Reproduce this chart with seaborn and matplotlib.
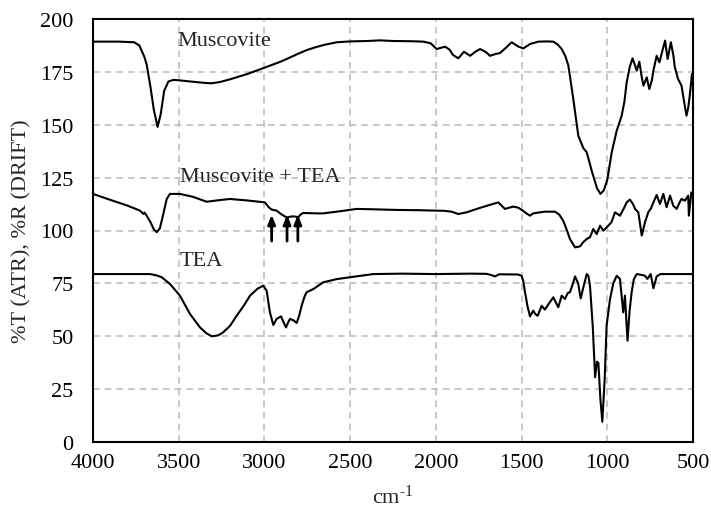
import numpy as np
import pandas as pd
import matplotlib
matplotlib.use("Agg")
import matplotlib.pyplot as plt
import seaborn as sns

# ---------------- data ----------------
musc_wn = [4000, 3850, 3760, 3730, 3700, 3687, 3665, 3645, 3623, 3605, 3585, 3560, 3530, 3498,
           3450, 3400, 3350, 3308, 3260, 3200, 3100, 2992, 2900, 2800, 2753, 2700, 2650, 2578,
           2500, 2400, 2326, 2250, 2150, 2073, 2030, 1995, 1965, 1946, 1920, 1900, 1869, 1836,
           1800, 1770, 1742, 1710, 1684, 1650, 1626, 1590, 1558, 1520, 1490, 1450, 1402, 1350,
           1315, 1290, 1266, 1245, 1227, 1198, 1169, 1140, 1120, 1090, 1060, 1040, 1020, 1000,
           974, 945, 916, 900, 887, 870, 853, 840, 828, 813, 800, 789, 770, 755, 740, 731, 712,
           696, 680, 663, 648, 629, 615, 606, 587, 567, 550, 538, 528, 519, 506, 500]
musc_val = [189.3, 189.3, 189.0, 187.5, 182.0, 178.5, 168.0, 157.0, 149.0, 155.0, 166.0, 170.5,
            171.2, 171.0, 170.6, 170.2, 169.8, 169.6, 170.2, 171.5, 174.0, 177.2, 180.0, 183.7,
            185.3, 186.7, 187.8, 189.0, 189.4, 189.6, 189.9, 189.6, 189.5, 189.3, 188.5, 185.8,
            186.5, 186.9, 185.5, 183.0, 181.4, 184.5, 182.6, 184.5, 185.8, 184.5, 182.6, 183.5,
            183.9, 186.5, 189.0, 187.0, 186.1, 188.2, 189.3, 189.4, 189.3, 188.0, 185.8, 182.5,
            178.0, 162.0, 144.8, 139.0, 137.0, 128.0, 120.0, 117.3, 119.0, 124.0, 137.0, 147.2,
            154.3, 161.0, 170.0, 177.0, 181.4, 178.5, 175.6, 179.8, 173.0, 168.5, 172.4, 166.9,
            171.0, 175.6, 182.6, 179.5, 184.5, 189.8, 181.1, 189.0, 183.0, 177.2, 171.6, 168.5,
            160.0, 154.3, 158.0, 163.7, 174.0, 174.0]

mix_wn = [4000, 3900, 3800, 3726, 3706, 3700, 3687, 3665, 3645, 3628, 3610, 3595, 3570, 3551,
          3493, 3420, 3337, 3270, 3201, 3100, 2997, 2975, 2958, 2929, 2900, 2871, 2850, 2832,
          2815, 2803, 2790, 2774, 2700, 2657, 2550, 2462, 2350, 2267, 2210, 2100, 2005, 1950,
          1908, 1869, 1820, 1750, 1690, 1636, 1597, 1549, 1520, 1500, 1470, 1451, 1432, 1400,
          1364, 1305, 1280, 1257, 1235, 1218, 1188, 1159, 1140, 1120, 1101, 1082, 1062, 1042,
          1023, 994, 975, 955, 926, 900, 887, 868, 850, 838, 819, 799, 780, 761, 745, 731, 712,
          693, 673, 654, 634, 615, 595, 580, 567, 547, 528, 524, 510, 500]
mix_val = [117.3, 114.5, 111.8, 109.4, 107.8, 108.5, 107.0, 104.0, 100.5, 99.2, 101.0, 106.0,
           114.9, 117.3, 117.3, 116.0, 113.6, 114.3, 114.9, 114.2, 113.3, 111.0, 109.9, 109.4,
           107.6, 106.2, 106.5, 106.7, 106.5, 106.2, 107.5, 108.3, 108.1, 108.1, 109.2, 110.2,
           110.0, 109.8, 109.7, 109.6, 109.4, 109.3, 108.9, 107.8, 108.6, 110.5, 112.0, 113.3,
           110.2, 111.3, 110.8, 109.8, 108.0, 107.0, 108.1, 108.5, 108.9, 108.9, 107.5, 104.6,
           100.0, 96.0, 92.0, 92.5, 94.5, 96.0, 96.8, 100.7, 98.3, 102.3, 99.9, 102.3, 104.0,
           108.6, 107.0, 111.0, 113.3, 114.6, 112.5, 110.2, 108.6, 97.6, 103.9, 108.6, 110.5,
           113.3, 116.8, 112.5, 117.3, 111.0, 116.5, 111.7, 110.2, 113.0, 114.9, 114.1, 116.5,
           107.0, 118.0, 116.0]

tea_wn = [4000, 3800, 3667, 3630, 3599, 3551, 3493, 3434, 3376, 3340, 3308, 3270, 3240, 3200,
          3162, 3120, 3084, 3040, 3006, 2987, 2968, 2948, 2929, 2903, 2888, 2874, 2862, 2851,
          2830, 2812, 2798, 2783, 2765, 2754, 2715, 2657, 2580, 2501, 2365, 2200, 2000, 1800,
          1703, 1680, 1655, 1630, 1520, 1500, 1490, 1480, 1465, 1451, 1432, 1420, 1406, 1383,
          1364, 1340, 1315, 1286, 1266, 1247, 1230, 1218, 1200, 1188, 1170, 1155, 1140, 1120,
          1110, 1101, 1085, 1071, 1060, 1052, 1040, 1029, 1015, 1004, 984, 965, 945, 926, 907,
          897, 882, 870, 858, 845, 828, 800, 780, 766, 747, 731, 712, 690, 663, 500]
tea_val = [79.4, 79.4, 79.4, 78.8, 77.9, 74.7, 69.2, 60.5, 54.2, 51.5, 50.0, 50.4, 51.9, 55.0,
           59.7, 64.5, 69.2, 72.5, 73.9, 71.5, 61.3, 55.3, 58.2, 59.4, 56.5, 54.2, 56.5, 58.2,
           57.5, 56.3, 59.5, 64.4, 69.0, 70.8, 72.3, 75.5, 77.0, 77.9, 79.4, 79.6, 79.4, 79.6,
           79.5, 79.0, 78.3, 79.3, 79.2, 78.6, 76.0, 70.8, 64.0, 59.4, 62.1, 60.5, 59.7, 64.4,
           62.6, 65.5, 68.4, 63.7, 69.2, 67.6, 70.5, 70.8, 75.0, 78.3, 75.0, 67.9, 73.0, 79.4,
           78.5, 73.9, 55.0, 30.6, 38.0, 37.4, 20.0, 9.6, 30.0, 55.0, 67.6, 75.0, 78.6, 77.1,
           61.3, 69.2, 47.9, 62.0, 70.8, 77.0, 79.4, 79.0, 78.6, 77.1, 79.4, 72.7, 78.3, 79.4,
           79.4, 79.4]

labels = ["Muscovite", "Muscovite + TEA", "TEA"]
label_pos_wn = [3505, 3493, 3493]
label_pos_val = [189.6, 125.6, 85.6]

arrow_wn = [2958, 2868, 2805]
arrow_tail = 95.0
arrow_head = 107.5

x_ticks = [4000, 3500, 3000, 2500, 2000, 1500, 1000, 500]
y_ticks = [0, 25, 50, 75, 100, 125, 150, 175, 200]

# ---------------- style ----------------
sns.set_style("white")
plt.rcParams["font.family"] = ["Liberation Serif", "DejaVu Serif"]
plt.rcParams["mathtext.fontset"] = "custom"
plt.rcParams["mathtext.rm"] = "Liberation Serif"
plt.rcParams["mathtext.it"] = "Liberation Serif:italic"

fig = plt.figure(figsize=(7.11, 5.10), dpi=100)
ax = fig.add_axes([93 / 711, 1 - 443 / 510, 600 / 711, 423 / 510])

for wn, val in [(musc_wn, musc_val), (mix_wn, mix_val), (tea_wn, tea_val)]:
    df = pd.DataFrame({"wn": wn, "val": val})
    sns.lineplot(data=df, x="wn", y="val", ax=ax, color="black", linewidth=1.5,
                 estimator=None, sort=False, zorder=3)

for t, xw, yv in zip(labels, label_pos_wn, label_pos_val):
    ax.text(xw, yv, t, fontsize=16, ha="left", va="center", zorder=4)

for xa in arrow_wn:
    ax.annotate("", xy=(xa, arrow_head), xytext=(xa, arrow_tail),
                arrowprops=dict(arrowstyle="-|>,head_length=0.55,head_width=0.22",
                                color="black", lw=2.0, shrinkA=0, shrinkB=0), zorder=4)

ax.set_xlim(4000, 500)
ax.set_ylim(0, 200)
ax.set_xticks(x_ticks)
ax.set_yticks(y_ticks)
ax.grid(True, color="#bfbfbf", linestyle=(0, (4, 3)), linewidth=1.2, zorder=0)
ax.set_axisbelow(True)
for s in ax.spines.values():
    s.set_visible(True)
    s.set_color("black")
    s.set_linewidth(1.5)
ax.tick_params(axis="both", direction="in", length=5, width=1.3, labelsize=16,
               colors="black", top=False, right=False)
ax.tick_params(axis="y", pad=14)
ax.tick_params(axis="x", pad=8)
ax.set_xlabel(r"cm$^{\text{-1}}$", fontsize=16, labelpad=9)
ax.set_ylabel("%T (ATR), %R (DRIFT)", fontsize=16, labelpad=6)

fig.savefig("out.png", dpi=100)
